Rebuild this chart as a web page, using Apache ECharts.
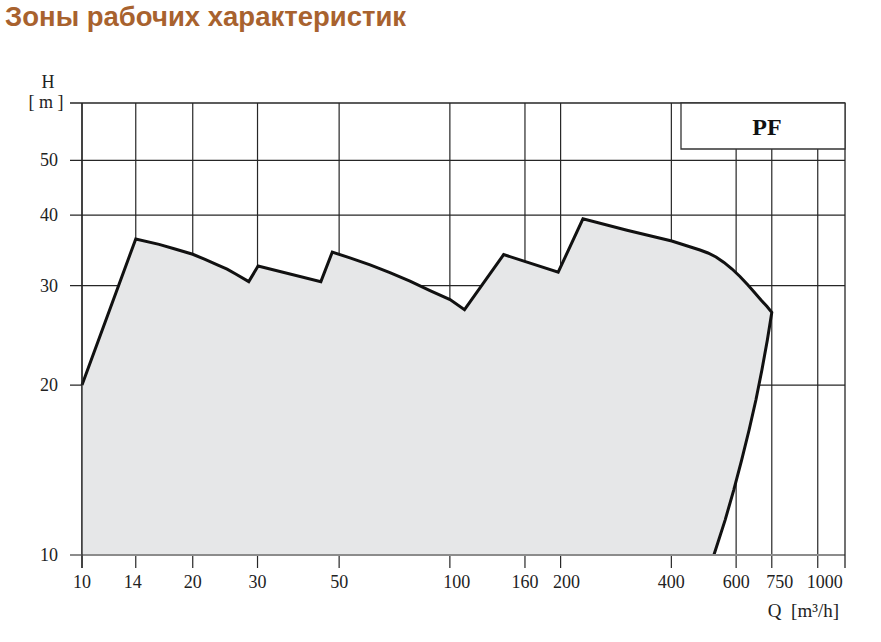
<!DOCTYPE html>
<html><head><meta charset="utf-8">
<script src="https://cdn.jsdelivr.net/npm/echarts@6/dist/echarts.min.js"></script>
<style>html,body{margin:0;padding:0;background:#fff}#c{width:881px;height:642px}</style>
</head><body><div id="c"></div>
<script>
// Tick values
const xTicks = [10, 14, 20, 30, 50, 100, 160, 200, 400, 600, 750, 1000];
const yTicks = [10, 20, 30, 40, 50];
// Operating-zone boundary (Q in m3/h, H in m)
const flowQ = [10, 14, 16.2, 17.9, 20, 21.6, 23.5, 24.8, 26.1, 28.4, 30.1, 44.6, 47.9, 53.5, 60.7, 68.7, 77.9, 88.3, 100.1, 109.6, 140, 197, 230, 303, 401, 478.5, 503, 529, 556, 585, 614.5, 646, 675, 701, 728, 750, 729.5, 705, 679, 650.6, 621, 591, 560, 522];
const headH = [20, 36.3, 35.5, 34.84, 34.1, 33.4, 32.6, 32.1, 31.5, 30.5, 32.5, 30.5, 34.4, 33.6, 32.66, 31.65, 30.57, 29.41, 28.35, 27.2, 34.05, 31.7, 39.4, 37.6, 36.0, 34.7, 34.28, 33.72, 32.98, 32.11, 31.14, 30.08, 29.12, 28.3, 27.56, 26.9, 24.04, 21.27, 18.82, 16.65, 14.73, 13.03, 11.53, 10];
// Axis ranges
const xMin = 10, xMax = 1186, yMin = 10, yMax = 63.2;

const chart = echarts.init(document.getElementById('c'), null, {renderer: 'svg'});
const LBL = '18px "Liberation Serif", "Times New Roman", serif';
const GRID = '#262626';
// small horizontal label nudges (layout only)
const labelNudge = {'14': -3, '100': 7, '200': 6, '750': 8, '1000': 7};

const option = {
  animation: false,
  backgroundColor: '#fff',
  title: {
    text: 'Зоны рабочих характеристик',
    left: 5, top: 2, padding: 0,
    textStyle: {fontFamily: '"Liberation Sans", Arial, sans-serif', fontWeight: 'bold', fontSize: 27.5, color: '#a8622e'}
  },
  grid: {left: 82, top: 103, width: 763, height: 452},
  xAxis: {type: 'log', logBase: 10, min: xMin, max: xMax,
    axisLine: {show: false}, axisTick: {show: false}, axisLabel: {show: false}, splitLine: {show: false}},
  yAxis: {type: 'log', logBase: 10, min: yMin, max: yMax,
    axisLine: {show: false}, axisTick: {show: false}, axisLabel: {show: false}, splitLine: {show: false}},
  graphic: [
    {type: 'rect', z: 100, shape: {x: 681, y: 103, width: 164, height: 46}, style: {fill: '#fff', stroke: '#333', lineWidth: 1.3}},
    {type: 'text', z: 101, style: {x: 767, y: 127, text: 'PF', align: 'center', verticalAlign: 'middle', font: 'bold 24px "Liberation Serif", serif', fill: '#111'}},
    {type: 'text', z: 101, style: {x: 48, y: 82, text: 'H', align: 'center', verticalAlign: 'middle', font: '18px "Liberation Serif", serif', fill: '#222'}},
    {type: 'text', z: 101, style: {x: 46, y: 102, text: '[ m ]', align: 'center', verticalAlign: 'middle', font: '18px "Liberation Serif", serif', fill: '#222'}},
    {type: 'text', z: 101, style: {x: 839, y: 610, text: 'Q  [m³/h]', align: 'right', verticalAlign: 'middle', font: '19px "Liberation Serif", serif', fill: '#222'}}
  ],
  series: [
    {
      type: 'custom', name: 'xgrid', z: 1, silent: true,
      data: xTicks.map(v => [v, yMin]),
      renderItem: function (params, api) {
        const v = api.value(0);
        const top = api.coord([v, yMax]);
        const bot = api.coord([v, yMin]);
        const nudge = labelNudge[String(v)] || 0;
        return {type: 'group', children: [
          {type: 'line', shape: {x1: bot[0], y1: top[1], x2: bot[0], y2: bot[1] + 13}, style: {stroke: GRID, lineWidth: 1.2}},
          {type: 'text', style: {x: bot[0] + nudge, y: bot[1] + 27, text: String(v), align: 'center', verticalAlign: 'middle', font: LBL, fill: '#222'}}
        ]};
      }
    },
    {
      type: 'custom', name: 'ygrid', z: 1, silent: true,
      data: yTicks.map(v => [xMin, v]),
      renderItem: function (params, api) {
        const v = api.value(1);
        const l = api.coord([xMin, v]);
        const r = api.coord([xMax, v]);
        const ch = [{type: 'text', style: {x: l[0] - 24, y: l[1], text: String(v), align: 'right', verticalAlign: 'middle', font: LBL, fill: '#222'}}];
        if (v > yMin) ch.push({type: 'line', shape: {x1: l[0] - 12, y1: l[1], x2: r[0], y2: r[1]}, style: {stroke: GRID, lineWidth: 1.2}});
        return {type: 'group', children: ch};
      }
    },
    {
      type: 'custom', name: 'zoneFill', z: 2, silent: true,
      data: [[flowQ[0], headH[0]]],
      renderItem: function (params, api) {
        const pts = flowQ.map((q, i) => api.coord([q, headH[i]]));
        pts.push(api.coord([xMin, yMin]));
        return {type: 'polygon', shape: {points: pts}, style: {fill: '#e6e7e8', stroke: null}};
      }
    },
    {
      type: 'line', name: 'PF', z: 3, silent: true,
      data: flowQ.map((q, i) => [q, headH[i]]),
      symbol: 'none',
      lineStyle: {color: '#111', width: 3, join: 'miter'}
    },
    {
      type: 'custom', name: 'frame', z: 4, silent: true,
      data: [[xMin, yMin]],
      renderItem: function (params, api) {
        const bl = api.coord([xMin, yMin]);
        const tr = api.coord([xMax, yMax]);
        return {type: 'group', children: [
          {type: 'line', shape: {x1: bl[0] - 12, y1: tr[1], x2: tr[0], y2: tr[1]}, style: {stroke: GRID, lineWidth: 1.3}},
          {type: 'line', shape: {x1: bl[0] - 12, y1: bl[1], x2: tr[0], y2: bl[1]}, style: {stroke: '#8c8c8c', lineWidth: 2}},
          {type: 'line', shape: {x1: bl[0], y1: tr[1], x2: bl[0], y2: bl[1] + 13}, style: {stroke: GRID, lineWidth: 1.3}},
          {type: 'line', shape: {x1: tr[0], y1: tr[1], x2: tr[0], y2: bl[1] + 13}, style: {stroke: GRID, lineWidth: 1.3}}
        ]};
      }
    }
  ]
};
chart.setOption(option);
</script>
</body></html>
